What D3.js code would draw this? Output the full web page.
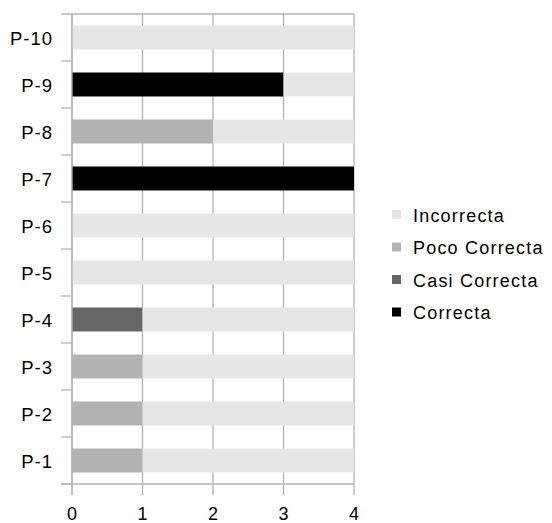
<!DOCTYPE html>
<html>
<head>
<meta charset="utf-8">
<script src="https://cdn.jsdelivr.net/npm/d3@7"></script>
<style>
  html, body { margin: 0; padding: 0; background: #fff; }
  svg { display: block; font-family: "Liberation Sans", Arial, sans-serif; }
</style>
</head>
<body>
<svg id="chart" width="552" height="523"></svg>
<script>
// Questions, bottom to top
const categories = ["P-1", "P-2", "P-3", "P-4", "P-5", "P-6", "P-7", "P-8", "P-9", "P-10"];
// Series in stacking order (left to right)
const seriesNames = ["Correcta", "Casi Correcta", "Poco Correcta", "Incorrecta"];
const correcta      = [0, 0, 0, 0, 0, 0, 4, 0, 3, 0];
const casiCorrecta  = [0, 0, 0, 1, 0, 0, 0, 0, 0, 0];
const pocoCorrecta  = [1, 1, 1, 0, 0, 0, 0, 2, 0, 0];
const incorrecta    = [3, 3, 3, 3, 4, 4, 0, 2, 1, 4];
const xTicks = [0, 1, 2, 3, 4];
const colors = ["#000000", "#666666", "#b3b3b3", "#e6e6e6"];

const values = [correcta, casiCorrecta, pocoCorrecta, incorrecta];
const rows = categories.map((c, i) => {
  const r = { cat: c };
  seriesNames.forEach((s, k) => { r[s] = values[k][i]; });
  return r;
});

const svg = d3.select("#chart");
const m = { left: 72, top: 14 };
const W = 354 - m.left, H = 484 - m.top;
const g = svg.append("g").attr("transform", `translate(${m.left},${m.top})`);

const x = d3.scaleLinear().domain([0, 4]).range([0, W]);
const y = d3.scaleBand().domain(categories.slice().reverse()).range([0, H]).paddingInner(0.49).paddingOuter(0.245);
const yb = d3.scaleBand().domain(categories.slice().reverse()).range([0, H]);

const gridColor = "#b3b3b3";
const tickLen = 11;

// vertical gridlines
g.append("g").selectAll("line").data(xTicks).join("line")
  .attr("x1", d => x(d)).attr("x2", d => x(d))
  .attr("y1", 0).attr("y2", H + tickLen)
  .attr("stroke", gridColor).attr("stroke-width", 1.3);

// top frame line
g.append("line").attr("x1", -tickLen).attr("x2", W).attr("y1", 0).attr("y2", 0)
  .attr("stroke", gridColor).attr("stroke-width", 1.3);

// category boundary ticks on the left
const bounds = categories.map(c => yb(c) + yb.bandwidth());
g.append("g").selectAll("line").data(bounds).join("line")
  .attr("x1", -tickLen).attr("x2", 0)
  .attr("y1", d => d).attr("y2", d => d)
  .attr("stroke", gridColor).attr("stroke-width", 1.3);

// bottom axis line
g.append("line").attr("x1", -tickLen).attr("x2", W).attr("y1", H).attr("y2", H)
  .attr("stroke", gridColor).attr("stroke-width", 1.3);

// stacked bars
const stack = d3.stack().keys(seriesNames)(rows);
g.append("g").selectAll("g").data(stack).join("g")
  .attr("fill", (d, k) => colors[k])
  .selectAll("rect").data(d => d).join("rect")
  .attr("x", d => x(d[0]))
  .attr("width", d => x(d[1]) - x(d[0]))
  .attr("y", d => y(d.data.cat))
  .attr("height", y.bandwidth());

// left axis line on top of bars
g.append("line").attr("x1", 0).attr("x2", 0).attr("y1", 0).attr("y2", H + tickLen)
  .attr("stroke", gridColor).attr("stroke-width", 1.3);

// category labels
g.append("g").selectAll("text").data(categories).join("text")
  .attr("x", -19)
  .attr("y", d => yb(d) + yb.bandwidth() / 2 + 7.5)
  .attr("text-anchor", "end")
  .attr("font-size", 18.5)
  .attr("letter-spacing", 1)
  .attr("fill", "#000")
  .text(d => d);

// x tick labels
g.append("g").selectAll("text").data(xTicks).join("text")
  .attr("x", d => x(d))
  .attr("y", H + 36)
  .attr("text-anchor", "middle")
  .attr("font-size", 18)
  .attr("fill", "#000")
  .text(d => d);

// legend
const legendOrder = ["Incorrecta", "Poco Correcta", "Casi Correcta", "Correcta"];
const lg = svg.append("g").attr("transform", "translate(392,215)");
legendOrder.forEach((name, i) => {
  const row = lg.append("g").attr("transform", `translate(0,${i * 32.5})`);
  row.append("rect").attr("x", 0).attr("y", -5).attr("width", 9).attr("height", 9)
    .attr("fill", colors[seriesNames.indexOf(name)]);
  row.append("text").attr("x", 21).attr("y", 6.5)
    .attr("font-size", 18).attr("letter-spacing", 1.2).attr("fill", "#000")
    .text(name);
});
</script>
</body>
</html>
